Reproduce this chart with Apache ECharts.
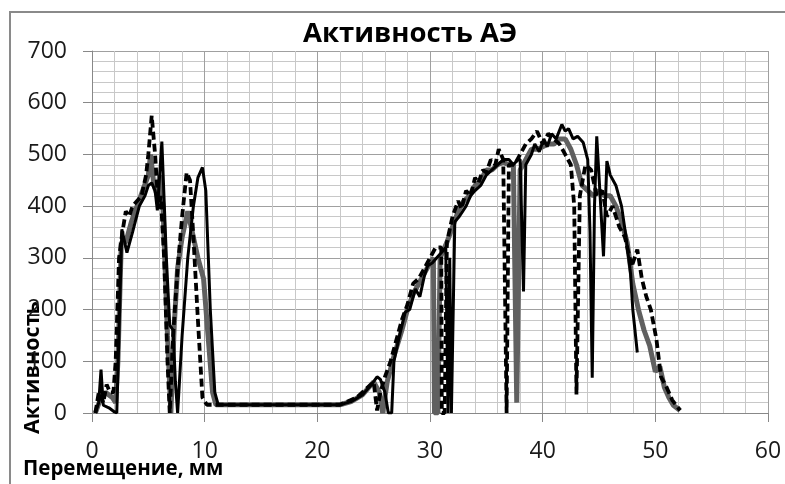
<!DOCTYPE html>
<html>
<head>
<meta charset="utf-8">
<script src="https://cdn.jsdelivr.net/npm/echarts@6/dist/echarts.min.js"></script>
<style>
  html, body { margin: 0; padding: 0; background: #fff; }
  #chart { width: 785px; height: 484px; }
</style>
</head>
<body>
<div id="chart"></div>
<script>
// перемещение (мм) / активность для трёх кривых
var solidX = [0.3, 0.6, 0.8, 1.0, 1.5, 2.0, 2.2, 2.65, 3.1, 3.6, 4.2, 4.7, 5.0, 5.3, 5.6, 5.8, 6.2, 6.6, 6.9, 7.2, 7.4, 7.6, 8.0, 8.5, 9.0, 9.4, 9.8, 10.1, 10.5, 10.9, 11.2, 22, 23, 24, 24.8, 25.3, 25.6, 26.0, 26.3, 26.6, 26.8, 27.3, 27.8, 28.2, 28.7, 29.1, 29.5, 29.8, 30.2, 30.6, 31.0, 31.4, 31.6, 31.75, 31.9, 32.2, 32.6, 33.2, 33.6, 34.0, 34.5, 35.0, 35.5, 36.0, 36.5, 37.0, 37.4, 37.8, 38.0, 38.3, 38.5, 39.0, 39.3, 39.7, 40.1, 40.4, 40.8, 41.2, 41.7, 42.0, 42.3, 42.7, 43.1, 43.6, 44.0, 44.2, 44.4, 44.6, 44.8, 45.1, 45.4, 45.7, 46.0, 46.5, 47.0, 47.4, 47.8, 48.0, 48.4];
var solidY = [0, 20, 84, 15, 10, 2, 0, 355, 310, 350, 400, 420, 440, 445, 430, 392, 525, 300, 170, 160, 60, 0, 150, 300, 400, 455, 475, 430, 200, 40, 16, 16, 22, 35, 55, 70, 65, 40, 0, 0, 100, 150, 195, 200, 240, 225, 265, 285, 290, 300, 310, 320, 0, 300, 0, 370, 380, 400, 420, 430, 440, 460, 470, 480, 490, 490, 480, 490, 490, 235, 480, 500, 520, 505, 530, 515, 540, 530, 558, 545, 550, 530, 535, 523, 490, 350, 68, 400, 535, 420, 303, 487, 460, 440, 400, 340, 270, 200, 117];

var grayX = [0.3, 0.8, 1.2, 1.5, 1.8, 2.1, 2.3, 2.6, 3.0, 3.5, 4.0, 4.5, 5.0, 5.2, 5.5, 5.8, 6.0, 6.3, 6.7, 7.0, 7.3, 7.6, 8.0, 8.5, 9.0, 9.4, 9.9, 10.3, 10.7, 11.0, 22, 23, 24, 25, 25.5, 25.8, 26.2, 26.8, 27.5, 28.0, 28.5, 29.0, 29.5, 30.0, 30.3, 30.4, 30.7, 30.9, 31.5, 32.0, 32.5, 33.0, 33.5, 34.0, 34.5, 35.0, 35.5, 36.0, 36.5, 37.0, 37.4, 37.7, 38.0, 38.5, 39.0, 39.5, 40.0, 40.5, 41.0, 41.5, 42.0, 42.5, 43.0, 43.5, 44.0, 44.5, 45.0, 45.5, 46.0, 46.5, 47.0, 47.5, 48.0, 48.5, 49.0, 49.5, 50.0, 50.4, 50.8, 51.2, 51.6, 52.2];
var grayY = [0, 30, 40, 35, 30, 20, 100, 330, 330, 370, 400, 430, 460, 500, 440, 420, 460, 400, 150, 0, 170, 280, 340, 390, 340, 300, 260, 150, 40, 16, 16, 22, 35, 60, 40, 0, 60, 110, 160, 200, 230, 250, 270, 290, 300, 0, 0, 300, 330, 360, 390, 410, 420, 440, 450, 470, 470, 480, 485, 480, 480, 20, 470, 490, 510, 510, 515, 520, 520, 530, 530, 510, 480, 440, 430, 420, 430, 420, 420, 400, 370, 330, 250, 200, 160, 130, 80, 90, 50, 30, 15, 5];

var dashX = [0.3, 0.6, 1.0, 1.3, 1.6, 1.9, 2.1, 2.4, 2.7, 3.0, 3.3, 3.6, 4.0, 4.4, 4.8, 5.0, 5.3, 5.6, 5.9, 6.1, 6.4, 6.7, 6.9, 7.2, 7.6, 8.0, 8.4, 8.7, 9.0, 9.4, 9.8, 10.2, 22, 23.5, 24.5, 25.0, 25.3, 25.6, 26.0, 26.5, 27.0, 27.5, 28.0, 28.5, 29.0, 29.5, 30.0, 30.5, 31.0, 31.05, 31.3, 31.5, 32.0, 32.5, 32.8, 33.2, 33.6, 34.0, 34.3, 34.7, 35.0, 35.4, 35.8, 36.1, 36.5, 36.8, 37.0, 37.5, 38.0, 38.5, 39.0, 39.5, 40.0, 40.5, 41.0, 41.5, 42.0, 42.5, 42.8, 43.0, 43.3, 43.8, 44.3, 44.8, 45.3, 45.7, 46.2, 46.8, 47.3, 47.9, 48.4, 48.8, 49.2, 49.6, 50.1, 50.5, 51.0, 51.5, 52.2];
var dashY = [0, 40, 20, 55, 40, 40, 100, 300, 350, 390, 380, 400, 410, 420, 460, 500, 575, 500, 395, 420, 300, 100, 0, 150, 280, 380, 465, 450, 340, 180, 30, 16, 16, 30, 50, 60, 5, 40, 70, 100, 140, 180, 210, 250, 260, 280, 300, 320, 320, 0, 0, 330, 380, 410, 395, 430, 420, 455, 445, 470, 465, 490, 480, 510, 490, 0, 480, 480, 500, 520, 530, 545, 520, 540, 530, 520, 500, 480, 400, 36, 420, 480, 470, 420, 430, 380, 400, 360, 340, 283, 316, 260, 225, 200, 142, 70, 50, 25, 5];

var xTicks = [0, 10, 20, 30, 40, 50, 60];
var yTicks = [0, 100, 200, 300, 400, 500, 600, 700];

function pairs(xs, ys) {
    return xs.map(function (x, i) { return [x, ys[i]]; });
}

var myChart = echarts.init(document.getElementById('chart'));
var fontName = '"Open Sans", "Noto Sans", sans-serif';

var option = {
    animation: false,
    backgroundColor: '#fff',
    title: {
        text: 'Активность АЭ',
        left: 298,
        top: 15,
        textStyle: {
            fontFamily: fontName,
            fontWeight: 'bold',
            fontSize: 27.5,
            color: '#000'
        }
    },
    grid: {
        left: 92,
        right: 17,
        top: 51,
        bottom: 71
    },
    graphic: [
        {
            type: 'rect',
            shape: {x: 10, y: 12, width: 800, height: 500},
            style: {fill: 'none', stroke: '#8a8a8a', lineWidth: 2},
            silent: true
        },
        {
            type: 'text',
            x: 22,
            y: 434,
            rotation: Math.PI / 2,
            style: {
                text: 'Активность',
                fontFamily: fontName,
                fontWeight: 'bold',
                fontSize: 21.5,
                fill: '#000',
                textAlign: 'left',
                textVerticalAlign: 'top'
            }
        },
        {
            type: 'text',
            x: 23,
            y: 459,
            style: {
                text: 'Перемещение, мм',
                fontFamily: fontName,
                fontWeight: 'bold',
                fontSize: 20.5,
                fill: '#000'
            }
        }
    ],
    xAxis: {
        type: 'value',
        min: xTicks[0],
        max: xTicks[xTicks.length - 1],
        interval: 10,
        axisLine: {lineStyle: {color: '#888', width: 1}},
        axisTick: {show: true, length: 9, lineStyle: {color: '#888'}},
        axisLabel: {
            margin: 27,
            fontFamily: fontName,
            fontSize: 23,
            color: '#1a1a1a'
        },
        splitLine: {show: true, lineStyle: {color: '#a0a0a0', width: 1}},
        minorTick: {show: false, splitNumber: 5},
        minorSplitLine: {show: true, lineStyle: {color: '#c8c8c8', width: 1}}
    },
    yAxis: {
        type: 'value',
        min: yTicks[0],
        max: yTicks[yTicks.length - 1],
        interval: 100,
        axisLine: {show: true, lineStyle: {color: '#888', width: 1}},
        axisTick: {show: true, length: 9, lineStyle: {color: '#888'}},
        axisLabel: {
            margin: 25,
            fontFamily: fontName,
            fontSize: 23,
            color: '#1a1a1a'
        },
        splitLine: {show: true, lineStyle: {color: '#a0a0a0', width: 1}},
        minorTick: {show: false, splitNumber: 5},
        minorSplitLine: {show: true, lineStyle: {color: '#c8c8c8', width: 1}}
    },
    series: [
        {
            name: 'серый',
            type: 'line',
            showSymbol: false,
            data: pairs(grayX, grayY),
            lineStyle: {color: '#606060', width: 5},
            z: 2
        },
        {
            name: 'пунктир',
            type: 'line',
            showSymbol: false,
            data: pairs(dashX, dashY),
            lineStyle: {color: '#000', width: 3.8, type: [8, 4]},
            z: 3
        },
        {
            name: 'сплошная',
            type: 'line',
            showSymbol: false,
            data: pairs(solidX, solidY),
            lineStyle: {color: '#000', width: 3},
            z: 4
        }
    ]
};
myChart.setOption(option);
</script>
</body>
</html>
